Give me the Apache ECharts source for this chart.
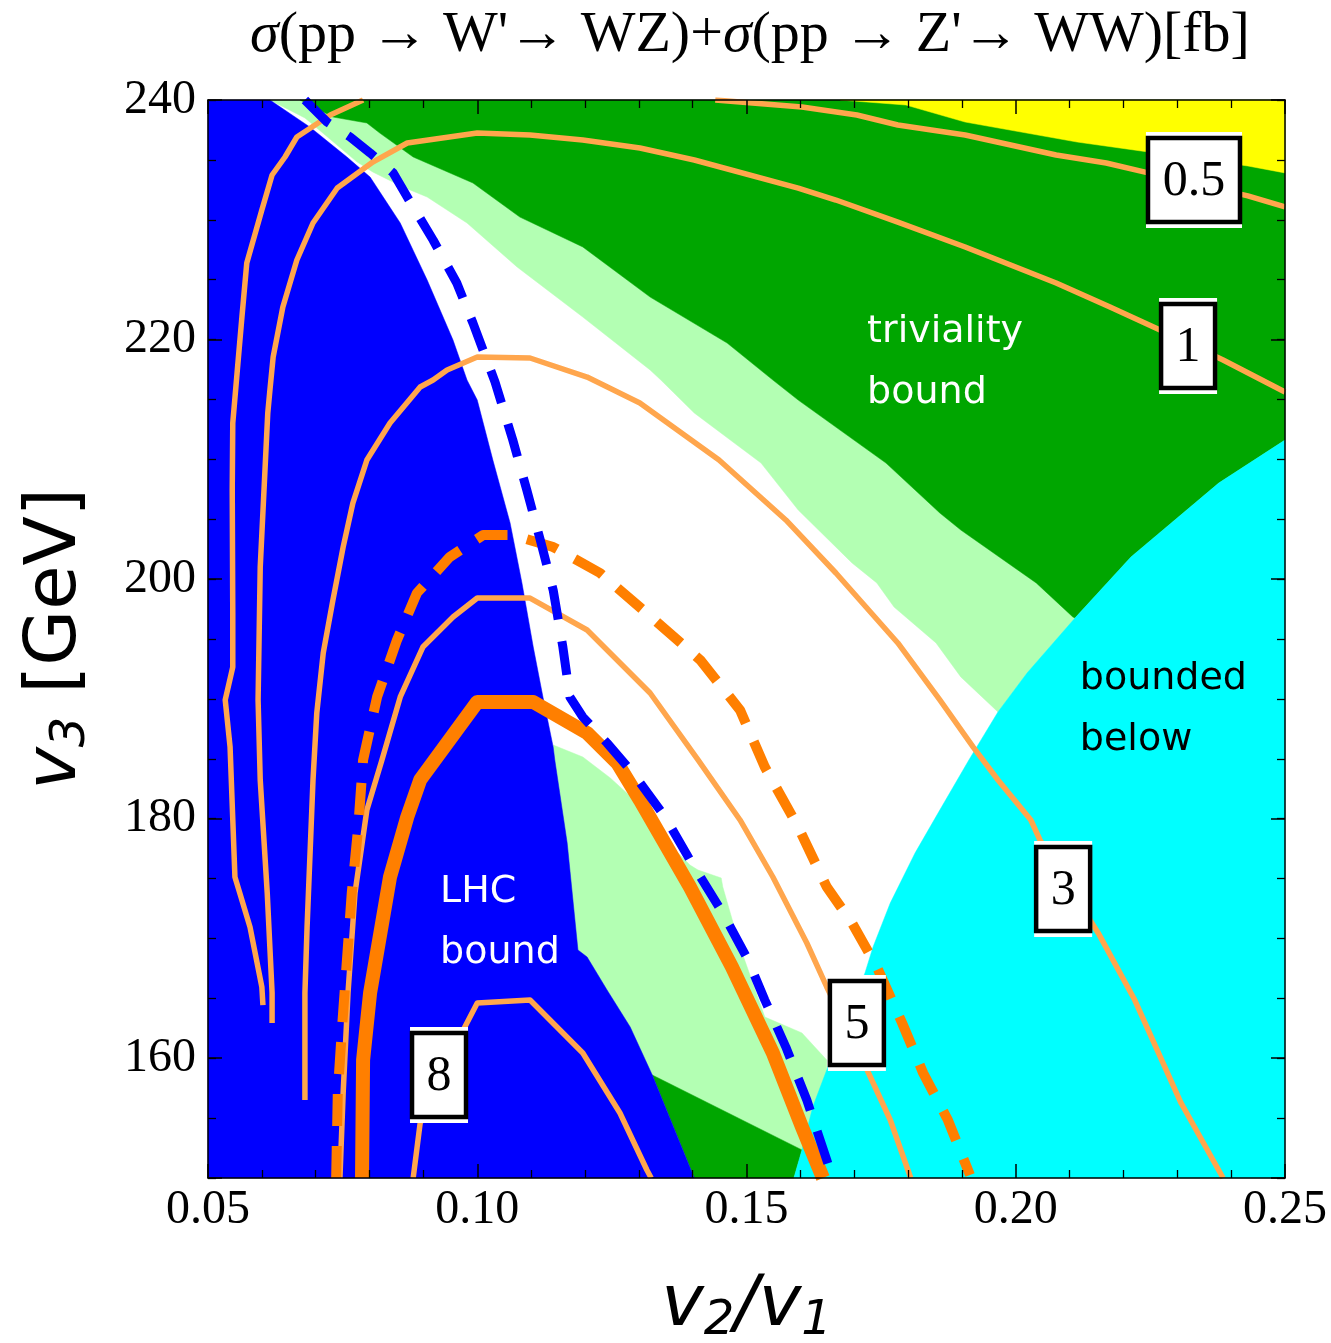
<!DOCTYPE html>
<html>
<head>
<meta charset="utf-8">
<title>Cross-section contours</title>
<script src="https://cdn.jsdelivr.net/npm/echarts@6/dist/echarts.min.js"></script>
<style>
  html, body { margin: 0; padding: 0; background: #ffffff; }
  #chart { width: 1331px; height: 1343px; }
</style>
</head>
<body>
<div id="chart"></div>
<script>
// ---- axis ticks ----
const xTickLabels = ['0.05', '0.10', '0.15', '0.20', '0.25'];
const yTickLabels = [160, 180, 200, 220, 240];

// ---- shaded regions in the (v2/v1, v3) plane ----
const lhcBound = [[0.05,240],[0.0615,240],[0.0689,237.75],[0.0758,235.24],[0.0801,233.57],[0.0857,229.73],[0.0907,224.97],[0.0955,219.96],[0.0981,216.62],[0.1000,214.95],[0.1029,209.94],[0.1061,204.69],[0.1083,199.68],[0.1104,194.33],[0.1122,190.16],[0.1141,185.98],[0.1144,184.90],[0.1167,177.97],[0.1187,169.04],[0.1204,168.45],[0.1241,165.70],[0.1284,162.61],[0.1325,158.60],[0.1403,150],[0.05,150]];

const trivialityBound = [[0.0671,240],[0.25,240],[0.25,211.61],[0.2377,208.02],[0.2214,201.85],[0.2110,196.75],[0.2106,196.84],[0.2038,199.68],[0.1898,204.10],[0.1859,205.52],[0.1759,209.69],[0.1596,214.95],[0.1549,216.62],[0.1464,219.71],[0.1321,223.55],[0.1196,227.73],[0.1079,230.23],[0.0992,233.07],[0.0881,235.24],[0.0819,237.24],[0.0795,238.08],[0.0732,238.58]];

const trivialityLow = [[0.1325,158.60],[0.1603,152.34],[0.1588,150],[0.1403,150]];

const marginalUpper = [[0.0615,240],[0.0671,240],[0.0732,238.58],[0.0795,238.08],[0.0819,237.24],[0.0881,235.24],[0.0992,233.07],[0.1079,230.23],[0.1196,227.73],[0.1321,223.55],[0.1464,219.71],[0.1549,216.62],[0.1596,214.95],[0.1759,209.69],[0.1859,205.52],[0.1898,204.10],[0.2038,199.68],[0.2106,196.84],[0.2110,196.75],[0.2021,192.16],[0.1967,188.91],[0.1898,191.83],[0.1852,194.67],[0.1774,197.67],[0.1742,199.68],[0.1696,201.35],[0.1596,205.77],[0.1527,209.69],[0.1403,213.87],[0.1341,216.62],[0.1321,217.46],[0.1196,221.88],[0.1074,226.06],[0.0981,229.73],[0.0907,231.90],[0.0862,232.74],[0.0806,233.99],[0.0777,234.82],[0.0689,238.16],[0.0680,238.5]];

const marginalLower = [[0.1141,186.15],[0.1196,185.15],[0.1247,183.40],[0.1302,181.14],[0.1349,178.22],[0.1395,176.13],[0.1410,175.71],[0.1453,175.05],[0.1456,174.30],[0.1488,169.29],[0.1534,163.44],[0.1603,162.11],[0.1649,159.85],[0.1649,158.0],[0.1603,152.34],[0.1325,158.60],[0.1141,170]];

const boundedBelow = [[0.25,211.61],[0.2377,208.02],[0.2214,201.85],[0.2110,196.75],[0.2021,192.16],[0.1967,188.91],[0.1913,184.90],[0.1859,180.72],[0.1813,177.13],[0.1767,172.96],[0.1735,169.29],[0.1720,167.12],[0.1692,164.03],[0.1649,159.02],[0.1623,155.93],[0.1603,152.34],[0.1588,150],[0.25,150]];

const yellowCorner = [[0.1674,240],[0.1796,239.58],[0.1906,238.16],[0.2114,236.49],[0.2246,235.66],[0.2431,234.49],[0.25,233.91],[0.25,240]];

// ---- cross-section contours [fb] ----
const sigma05a = [[0.0788,240],[0.0727,238.75],[0.0665,236.91],[0.0643,235.24],[0.0619,233.74],[0.0600,230.82],[0.0572,226.39],[0.0563,221.88],[0.0554,217.21],[0.0546,213.03],[0.0545,207.44],[0.0546,197.17],[0.0546,192.66],[0.0532,189.91],[0.0541,185.98],[0.0550,175.13],[0.0559,173.80],[0.0578,170.96],[0.0600,165.95],[0.0602,164.44]];
const sigma05b = [[0.1442,240],[0.1603,239.42],[0.1705,238.75],[0.1781,237.91],[0.1906,237.08],[0.2075,235.41],[0.2168,234.74],[0.2246,233.91],[0.2431,231.99],[0.25,231.07]];
const sigma1 = [[0.0619,162.94],[0.0619,165.45],[0.0610,173.80],[0.0597,183.23],[0.0593,189.91],[0.0597,201.01],[0.0611,213.87],[0.0615,215.79],[0.0621,218.54],[0.0639,222.72],[0.0665,226.64],[0.0695,229.73],[0.0740,232.65],[0.0806,234.82],[0.0870,236.41],[0.1000,237.24],[0.1098,237.08],[0.1196,236.66],[0.1302,235.99],[0.1403,234.99],[0.1596,232.65],[0.1666,231.65],[0.1781,229.81],[0.1906,227.73],[0.2075,224.72],[0.2175,222.72],[0.2268,220.80],[0.2385,218.29],[0.25,215.62]];
const sigma3 = [[0.0680,156.51],[0.0680,165.45],[0.0684,170.96],[0.0695,183.23],[0.0702,188.82],[0.0714,193.83],[0.0732,198.26],[0.0751,202.68],[0.0769,206.35],[0.0795,209.94],[0.0838,213.03],[0.0894,216.04],[0.0918,216.62],[0.0944,217.46],[0.1000,218.54],[0.1098,218.46],[0.1204,216.87],[0.1302,214.70],[0.1449,209.94],[0.1573,204.94],[0.1666,200.51],[0.1781,194.67],[0.1859,189.91],[0.1921,185.98],[0.1967,183.23],[0.2028,179.89],[0.2045,178.22],[0.2153,170.46],[0.2221,164.86],[0.2307,156.26],[0.2385,150]];
const sigmaDashed = [[0.0738,150],[0.0741,157.10],[0.0749,162.61],[0.0758,168.20],[0.0767,173.80],[0.0779,179.30],[0.0788,184.90],[0.0814,190.16],[0.0851,194.92],[0.0888,198.84],[0.0949,201.85],[0.1011,203.68],[0.1066,203.68],[0.1141,202.68],[0.1228,200.51],[0.1308,197.42],[0.1414,193.25],[0.1488,189.07],[0.1534,184.31],[0.1596,179.30],[0.1649,174.30],[0.1696,171.29],[0.1742,167.62],[0.1789,162.94],[0.1828,158.77],[0.1874,154.84],[0.1915,150.25]];
const sigma5 = [[0.0745,150],[0.0751,157.10],[0.0760,165.45],[0.0773,173.80],[0.0795,180.72],[0.0823,184.90],[0.0857,190.16],[0.0899,194.33],[0.0955,196.84],[0.1000,198.42],[0.1098,198.42],[0.1204,195.75],[0.1321,190.49],[0.1410,184.90],[0.1488,179.89],[0.1549,175.13],[0.1612,169.62],[0.1649,165.95],[0.1724,159.02],[0.1767,154.84],[0.1805,150]];
const sigmaLimit = [[0.0786,150],[0.0788,159.85],[0.0801,165.45],[0.0838,175.13],[0.0870,180.14],[0.0894,183.23],[0.1000,189.74],[0.1104,189.74],[0.1204,187.15],[0.1260,184.65],[0.1302,181.56],[0.1395,174.30],[0.1473,167.62],[0.1549,160.44],[0.1603,154.26],[0.1642,150]];
const sigma8 = [[0.0881,150],[0.0894,154.59],[0.0974,162.36],[0.1000,164.61],[0.1098,164.86],[0.1196,160.44],[0.1265,155.43],[0.1315,150.67],[0.1323,150]];
const lhcDashed = [[0.0680,240],[0.0721,238.16],[0.0764,236.91],[0.0801,235.58],[0.0844,233.91],[0.0870,231.90],[0.0918,228.31],[0.0962,224.72],[0.0992,221.38],[0.1033,216.46],[0.1066,211.61],[0.1092,207.44],[0.1117,203.27],[0.1141,199.09],[0.1159,194.33],[0.1172,190.16],[0.1196,188.49],[0.1241,186.32],[0.1289,183.81],[0.1349,180.14],[0.1395,176.55],[0.1456,172.12],[0.1503,168.20],[0.1534,164.86],[0.1573,160.94],[0.1612,156.51],[0.1649,151.50],[0.1655,150.67]];

// ---- contour value labels and region names ----
const contourLabels = [[0.2331,233.32,'0.5'],[0.2320,219.46,'1'],[0.2088,174.13,'3'],[0.1705,162.94,'5'],[0.0929,158.60,'8']];
const regionLabelsLight = [[0.1724,218.04,'triviality\nbound'],[0.0931,171.33,'LHC\nbound']];
const regionLabelsDark = [[0.2119,189.07,'bounded\nbelow']];

const SERIF = '"Liberation Serif", "Times New Roman", serif';
const SANS = '"DejaVu Sans", Verdana, sans-serif';
const LIGHT_ORANGE = '#FFA64D';
const ORANGE = '#FF7F00';

function regionSeries(points, color, z) {
  return {
    type: 'custom', coordinateSystem: 'cartesian2d', silent: true, z: z,
    data: [points[0]],
    renderItem: function (params, api) {
      return {
        type: 'polygon',
        shape: { points: points.map(function (p) { return api.coord(p); }) },
        style: { fill: color, stroke: color, lineWidth: 0.5 }
      };
    }
  };
}

function contourSeries(points, color, width, dash, z) {
  return {
    type: 'line', data: points, showSymbol: false, symbol: 'none', silent: true,
    clip: true, z: z,
    lineStyle: { color: color, width: width, type: dash || 'solid', cap: 'butt', join: 'round' }
  };
}

function textSeries(items, color) {
  return {
    type: 'custom', coordinateSystem: 'cartesian2d', silent: true, z: 6,
    data: items,
    renderItem: function (params, api) {
      const p = api.coord([api.value(0), api.value(1)]);
      return {
        type: 'text',
        style: {
          text: items[params.dataIndex][2], x: p[0], y: p[1],
          align: 'left', verticalAlign: 'middle',
          font: '38px ' + SANS, lineHeight: 61, fill: color
        }
      };
    }
  };
}

const labelSeries = {
  type: 'custom', coordinateSystem: 'cartesian2d', silent: true, z: 7,
  data: contourLabels,
  renderItem: function (params, api) {
    const p = api.coord([api.value(0), api.value(1)]);
    const text = contourLabels[params.dataIndex][2];
    const w = text.length > 1 ? 96 : 58;
    const h = 88;
    return {
      type: 'group',
      children: [
        { type: 'rect', shape: { x: p[0] - w / 2, y: p[1] - h / 2 - 4, width: w, height: h + 8 },
          style: { fill: '#ffffff' } },
        { type: 'rect', shape: { x: p[0] - w / 2 + 2, y: p[1] - h / 2 + 2, width: w - 4, height: h - 4 },
          style: { fill: '#ffffff', stroke: '#000000', lineWidth: 4.5 } },
        { type: 'text', style: { text: text, x: p[0], y: p[1] + 2, align: 'center', verticalAlign: 'middle',
          font: '50px ' + SERIF, fill: '#000000' } }
      ]
    };
  }
};

function frameX(position, withLabels) {
  return {
    type: 'value', position: position, min: 0.05, max: 0.25, interval: 0.05, z: 10,
    axisLine: { show: true, onZero: false, lineStyle: { color: '#000', width: 1.5 } },
    axisTick: { show: true, inside: true, length: 14, lineStyle: { color: '#000', width: 1.5 } },
    minorTick: { show: true, splitNumber: 5, length: 8, lineStyle: { color: '#000', width: 1.3 } },
    splitLine: { show: false }, minorSplitLine: { show: false },
    axisLabel: withLabels ? {
      show: true, margin: 8, color: '#000', fontFamily: SERIF, fontSize: 48,
      formatter: function (v) { const s = v.toFixed(2); return xTickLabels.indexOf(s) >= 0 ? s : ''; }
    } : { show: false }
  };
}

function frameY(position, withLabels) {
  return {
    type: 'value', position: position, min: 150, max: 240, interval: 5, z: 10,
    axisLine: { show: true, onZero: false, lineStyle: { color: '#000', width: 1.5 } },
    axisTick: { show: true, inside: true, length: 8, lineStyle: { color: '#000', width: 1.3 } },
    splitLine: { show: false },
    axisLabel: withLabels ? {
      show: true, margin: 12, color: '#000', fontFamily: SERIF, fontSize: 48,
      formatter: function (v) { return yTickLabels.indexOf(v) >= 0 ? String(v) : ''; }
    } : { show: false }
  };
}

// long ticks at the labelled v3 values, counted down from the top edge
function majorY(position) {
  return {
    type: 'value', position: position, inverse: true, min: 0, max: 90, interval: 20, z: 10,
    axisLine: { show: false },
    axisTick: { show: true, inside: true, length: 14, lineStyle: { color: '#000', width: 1.5 } },
    axisLabel: { show: false }, splitLine: { show: false }
  };
}

const nameRich = {
  v: { fontFamily: SANS, fontStyle: 'italic', fontSize: 72, color: '#000', lineHeight: 80 },
  n: { fontFamily: SANS, fontSize: 72, color: '#000', lineHeight: 80 },
  ni: { fontFamily: SANS, fontStyle: 'italic', fontSize: 72, color: '#000', lineHeight: 80 },
  s: { fontFamily: SANS, fontStyle: 'italic', fontSize: 48, color: '#000', verticalAlign: 'bottom', lineHeight: 48 }
};

const xBottom = frameX('bottom', true);
xBottom.name = '{v|v}{s|2}{ni|/}{v|v}{s|1}';
xBottom.nameLocation = 'middle';
xBottom.nameGap = 88;
xBottom.nameTextStyle = { color: '#000', rich: nameRich };

const yLeft = frameY('left', true);
yLeft.name = '{v|v}{s|3}{n| [GeV]}';
yLeft.nameLocation = 'middle';
yLeft.nameRotate = 90;
yLeft.nameGap = 112;
yLeft.nameTextStyle = { color: '#000', rich: nameRich };

const chart = echarts.init(document.getElementById('chart'), null, { renderer: 'canvas' });
chart.setOption({
  animation: false,
  backgroundColor: '#ffffff',
  title: {
    text: '{s|σ}(pp → W\'→ WZ)+{s|σ}(pp → Z\'→ WW)[fb]',
    left: 745, top: 2, textAlign: 'center',
    textStyle: {
      fontFamily: SERIF, fontSize: 58, fontWeight: 'normal', color: '#000',
      rich: { s: { fontFamily: SERIF, fontStyle: 'italic', fontSize: 58, color: '#000' } }
    }
  },
  grid: { left: 208, top: 100, width: 1077, height: 1078, containLabel: false, outerBoundsMode: 'none', show: false },
  xAxis: [xBottom, frameX('top', false)],
  yAxis: [yLeft, majorY('left'), frameY('right', false), majorY('right')],
  series: [
    regionSeries(marginalUpper, '#B3FFB3', 1),
    regionSeries(marginalLower, '#B3FFB3', 1),
    regionSeries(trivialityBound, '#00A600', 1),
    regionSeries(trivialityLow, '#00A600', 1),
    regionSeries(boundedBelow, '#00FFFF', 1),
    regionSeries(yellowCorner, '#FFFF00', 1),
    regionSeries(lhcBound, '#0000FF', 1),

    contourSeries(sigma05a, LIGHT_ORANGE, 5.5, null, 3),
    contourSeries(sigma05b, LIGHT_ORANGE, 5.5, null, 3),
    contourSeries(sigma1, LIGHT_ORANGE, 5.5, null, 3),
    contourSeries(sigma3, LIGHT_ORANGE, 5.5, null, 3),
    contourSeries(sigma5, LIGHT_ORANGE, 5.5, null, 3),
    contourSeries(sigma8, LIGHT_ORANGE, 5.5, null, 3),
    contourSeries(sigmaDashed, ORANGE, 10, [32, 20], 3),
    contourSeries(sigmaLimit, ORANGE, 14, null, 4),
    contourSeries(lhcDashed, '#0000FF', 9, [34, 22], 4),

    textSeries(regionLabelsLight, '#ffffff'),
    textSeries(regionLabelsDark, '#000000'),
    labelSeries
  ]
});
</script>
</body>
</html>
